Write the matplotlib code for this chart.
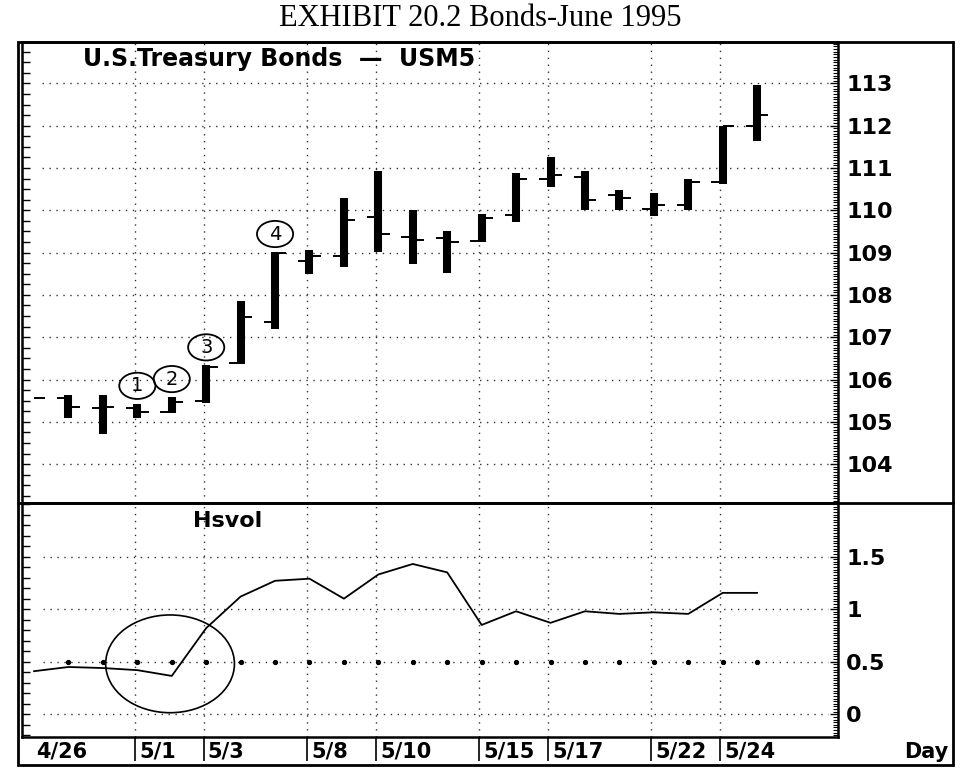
import numpy as np
import matplotlib
matplotlib.use('Agg')
import matplotlib.pyplot as plt
from matplotlib.patches import Ellipse, Rectangle
from matplotlib.lines import Line2D
from matplotlib.ticker import MultipleLocator, FixedLocator, FuncFormatter
import matplotlib.transforms as mtransforms

# ---------------- data ----------------
days = ['4/26', '4/27', '4/28', '5/1', '5/2', '5/3', '5/4', '5/5', '5/8', '5/9', '5/10',
        '5/11', '5/12', '5/15', '5/16', '5/17', '5/18', '5/19', '5/22', '5/23', '5/24', '5/25']

opens = [np.nan, 105.57, 105.33, 105.33, 105.22, 105.48, 106.38, 107.36, 108.81, 108.92, 109.85,
         109.38, 109.34, 109.27, 109.88, 110.74, 110.78, 110.37, 110.02, 110.12, 110.67, 112.00]
highs = [105.56, 105.63, 105.64, 105.43, 105.59, 106.34, 107.86, 109.02, 109.06, 110.29, 110.92,
         110.00, 109.52, 109.92, 110.88, 111.26, 110.94, 110.47, 110.40, 110.75, 112.00, 112.96]
lows = [105.56, 105.08, 104.71, 105.08, 105.20, 105.44, 106.36, 107.20, 108.49, 108.65, 109.02,
        108.74, 108.52, 109.24, 109.72, 110.55, 110.00, 110.00, 109.87, 110.00, 110.62, 111.64]
closes = [105.56, 105.35, 105.35, 105.23, 105.47, 106.30, 107.48, 109.00, 108.93, 109.78, 109.45,
          109.30, 109.26, 109.82, 110.74, 110.83, 110.24, 110.28, 110.13, 110.67, 112.00, 112.25]

hsvol = [0.41, 0.45, 0.44, 0.42, 0.365, 0.82, 1.12, 1.27, 1.29, 1.10, 1.33,
         1.43, 1.35, 0.85, 0.98, 0.87, 0.98, 0.955, 0.97, 0.955, 1.155, 1.155]

date_labels = ['4/26', '5/1', '5/3', '5/8', '5/10', '5/15', '5/17', '5/22', '5/24']
price_ticks = [104, 105, 106, 107, 108, 109, 110, 111, 112, 113]
vol_ticks = [0, 0.5, 1, 1.5]

# circled numbers: (label, day)
marks = [('1', '5/1'), ('2', '5/2'), ('3', '5/3'), ('4', '5/5')]
ring_day = '5/2'   # circle drawn on the volatility pane

title = 'EXHIBIT 20.2 Bonds-June 1995'
chart_name = 'U.S.Treasury Bonds  \u2014  USM5'

# ---------------- figure ----------------
fig = plt.figure(figsize=(9.6, 7.77), dpi=100)
W, H = 960.0, 777.0
L, R = 22 / W, 838 / W
ax = fig.add_axes([L, (H - 503) / H, R - L, (503 - 42) / H])
axv = fig.add_axes([L, (H - 737) / H, R - L, (737 - 503) / H])

x = np.arange(len(days))
xlim = (-0.35, 23.35)
gx = [days.index(d) - 0.07 for d in date_labels]

dot = (0, (1, 4))
sans = 'DejaVu Sans'
gcol = '#333333'

for a in (ax, axv):
    a.set_xlim(*xlim)
    for s in a.spines.values():
        s.set_linewidth(1.8)
    a.tick_params(axis='x', bottom=False, labelbottom=False)
    for g in gx[1:]:
        a.axvline(g, color=gcol, lw=1, ls=dot, zorder=1)

# ----- price pane -----
ax.set_ylim(103.08, 113.98)
for p in price_ticks:
    ax.hlines(p, 0.23, 23.05, color=gcol, lw=1, ls=dot, zorder=1)

tw = 0.33
ax.vlines(x, lows, highs, color='black', lw=5.8, zorder=3)
for i in x:
    if not np.isnan(opens[i]):
        ax.hlines(opens[i], i - tw, i, color='black', lw=1.4, zorder=2)
    ax.hlines(closes[i], i, i + tw, color='black', lw=1.4, zorder=2)

for lab, d in marks:
    i = days.index(d)
    cy = highs[i] + 0.42
    ax.add_patch(Ellipse((i, cy), 1.05, 0.62, fill=False, lw=1.3, ec='black', zorder=4))
    ax.text(i, cy, lab, ha='center', va='center', fontsize=14, family=sans, zorder=5)

ax.text(0.075, 0.99, chart_name, transform=ax.transAxes, ha='left', va='top',
        fontsize=17, family=sans, weight='bold')

ax.yaxis.set_major_locator(MultipleLocator(0.25))
ax.tick_params(axis='y', left=True, right=False, labelleft=False, direction='in',
               length=6, width=1)
axr = ax.twinx()
axr.set_ylim(ax.get_ylim())
axr.yaxis.set_major_locator(FixedLocator(price_ticks))
axr.yaxis.set_minor_locator(MultipleLocator(1 / 16))
axr.tick_params(axis='y', which='major', direction='in', length=6, width=1,
                labelsize=16, pad=6)
axr.tick_params(axis='y', which='minor', direction='in', length=3.5, width=0.8)
for t in axr.get_yticklabels():
    t.set_family(sans)
    t.set_weight('bold')
for s in axr.spines.values():
    s.set_visible(False)

# ----- volatility pane -----
axv.set_ylim(-0.216, 2.01)
for v in vol_ticks:
    axv.hlines(v, 0.25, 23.05, color=gcol, lw=1, ls=dot, zorder=1)
axv.plot(x[1:], [0.5] * (len(x) - 1), 'o', color='black', ms=2.8, zorder=2)
axv.plot(x, hsvol, color='black', lw=1.3, zorder=3)
axv.add_patch(Ellipse((days.index(ring_day) - 0.05, 0.48), 3.74, 0.93, fill=False,
                      lw=1.2, ec='black', zorder=4))
axv.text(0.21, 0.965, 'Hsvol', transform=axv.transAxes, ha='left', va='top',
         fontsize=16, family=sans, weight='bold')

axv.yaxis.set_major_locator(MultipleLocator(0.1))
axv.tick_params(axis='y', left=True, right=False, labelleft=False, direction='in',
                length=6, width=1)
axvr = axv.twinx()
axvr.set_ylim(axv.get_ylim())
axvr.yaxis.set_major_locator(FixedLocator(vol_ticks))
axvr.yaxis.set_minor_locator(MultipleLocator(0.025))
axvr.yaxis.set_major_formatter(FuncFormatter(lambda v, p: '%g' % v))
axvr.tick_params(axis='y', which='major', direction='in', length=6, width=1,
                 labelsize=16, pad=6)
axvr.tick_params(axis='y', which='minor', direction='in', length=3.5, width=0.8)
for t in axvr.get_yticklabels():
    t.set_family(sans)
    t.set_weight('bold')
for s in axvr.spines.values():
    s.set_visible(False)

# date strip under the lower pane
axv.set_xticks(gx[1:])
axv.tick_params(axis='x', bottom=True, direction='out', length=17, width=1.2)
strip = mtransforms.blended_transform_factory(axv.transData, axv.transAxes)
strip = mtransforms.offset_copy(strip, fig=fig, x=4, y=0, units='dots')
for g, lab in zip(gx, date_labels):
    axv.text(g, -0.062, lab, transform=strip, ha='left', va='center',
             fontsize=15, family=sans, weight='bold')

fig.text((953 - 5) / W, (H - 752) / H, 'Day', ha='right', va='center',
         fontsize=15, family=sans, weight='bold')

# outer frame and pane divider
fig.add_artist(Rectangle((18 / W, (H - 765) / H), (953 - 18) / W, (765 - 42) / H,
                         transform=fig.transFigure, fill=False, lw=2, ec='black'))
fig.add_artist(Line2D([18 / W, 953 / W], [(H - 503) / H] * 2, transform=fig.transFigure,
                      lw=2, color='black'))

fig.text(0.5, (H - 18) / H, title, ha='center', va='center', fontsize=22,
         family='Liberation Serif')

fig.savefig('out.png', dpi=100)
